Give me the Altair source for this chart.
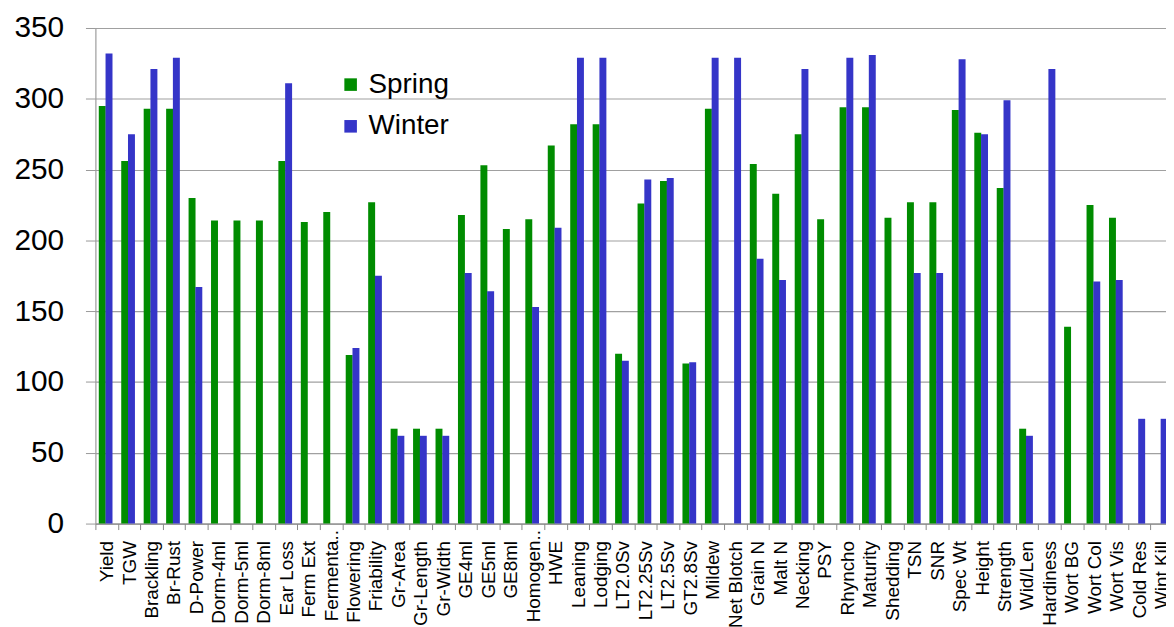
import altair as alt
import pandas as pd

categories = ["Yield", "TGW", "Brackling", "Br-Rust", "D-Power", "Dorm-4ml", "Dorm-5ml",
              "Dorm-8ml", "Ear Loss", "Ferm Ext", "Fermenta..", "Flowering", "Friability",
              "Gr-Area", "Gr-Length", "Gr-Width", "GE4ml", "GE5ml", "GE8ml", "Homogen..",
              "HWE", "Leaning", "Lodging", "LT2.0Sv", "LT2.25Sv", "LT2.5Sv", "GT2.8Sv",
              "Mildew", "Net Blotch", "Grain N", "Malt N", "Necking", "PSY", "Rhyncho",
              "Maturity", "Shedding", "TSN", "SNR", "Spec Wt", "Height", "Strength",
              "Wid/Len", "Hardiness", "Wort BG", "Wort Col", "Wort Vis", "Cold Res", "Wint Kill"]

spring = [295, 256, 293, 293, 230, 214, 214, 214, 256, 213, 220, 119, 227,
          67, 67, 67, 218, 253, 208, 215, 267, 282, 282, 120, 226, 242, 113,
          293, None, 254, 233, 275, 215, 294, 294, 216, 227, 227, 292, 276, 237,
          67, None, 139, 225, 216, None, None]

winter = [332, 275, 321, 329, 167, None, None, None, 311, None, None, 124, 175,
          62, 62, 62, 177, 164, None, 153, 209, 329, 329, 115, 243, 244, 114,
          329, 329, 187, 172, 321, None, 329, 331, None, 177, 177, 328, 275, 299,
          62, 321, None, 171, 172, 74, 74]

series = ["Spring", "Winter"]
colors = ["#008C00", "#3535C8"]

rows = []
for c, s, w in zip(categories, spring, winter):
    if s is not None:
        rows.append({"trait": c, "season": "Spring", "value": s})
    if w is not None:
        rows.append({"trait": c, "season": "Winter", "value": w})
df = pd.DataFrame(rows)

FONT = "Liberation Sans"

truncated_test = "datum.value === 'Fermenta..' || datum.value === 'Homogen..'"

chart = alt.Chart(df).mark_bar(size=7).encode(
    x=alt.X("trait:N", sort=categories,
            scale=alt.Scale(domain=categories, range=[0, 1085], paddingInner=0, paddingOuter=0),
            axis=alt.Axis(title=None, labelAngle=270, labelFontSize=19, labelFont=FONT,
                          labelColor="black", labelOverlap=False, labelLimit=200,
                          tickBand="extent", tickSize=6, tickColor="#888888",
                          domainColor="#888888", grid=False,
                          labelPadding={"condition": {"test": truncated_test, "value": 0},
                                        "value": 11})),
    xOffset=alt.XOffset("season:N", sort=series,
                        scale=alt.Scale(domain=series, paddingInner=0, paddingOuter=0.66, align=0.39)),
    y=alt.Y("value:Q",
            scale=alt.Scale(domain=[0, 350], nice=False),
            axis=alt.Axis(title=None, values=[0, 50, 100, 150, 200, 250, 300, 350],
                          labelFontSize=30, labelFont=FONT, labelColor="black",
                          tickSize=10, tickColor="#999999", domainColor="#999999",
                          gridColor="#a0a0a0", gridWidth=1.2, labelPadding=22)),
    color=alt.Color("season:N", sort=series,
                    scale=alt.Scale(domain=series, range=colors),
                    legend=alt.Legend(title=None, orient="none", legendX=243, legendY=43,
                                      symbolType="square", symbolSize=160, symbolStrokeWidth=0,
                                      labelFontSize=28, labelFont=FONT, labelColor="black",
                                      labelOffset=4, rowPadding=14, padding=0)),
).properties(
    width=1078,
    height=499,
    autosize=alt.AutoSizeParams(type="none"),
    padding={"left": 88, "top": 18, "right": 0, "bottom": 102},
).configure_view(stroke=None).configure(background="white")

chart.save("out.html", embed_options={"renderer": "svg", "actions": False})
